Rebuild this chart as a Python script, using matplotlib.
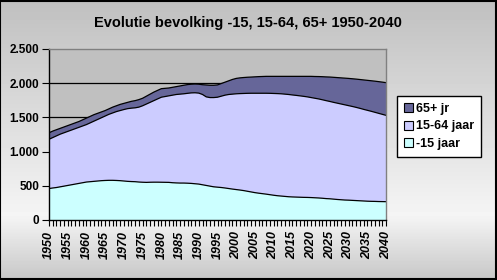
import numpy as np
import matplotlib.pyplot as plt
from matplotlib.ticker import FuncFormatter, MultipleLocator

years = np.arange(1950, 2041)

jong = [460, 468, 475, 485, 495, 505, 515, 525, 535, 545,
        555, 560, 565, 570, 575, 578, 580, 580, 578, 575,
        570, 565, 562, 560, 555, 552, 550, 552, 553, 553,
        552, 551, 550, 545, 542, 540, 540, 538, 535, 530,
        525, 515, 505, 495, 485, 480, 475, 468, 460, 452,
        445, 438, 430, 420, 410, 400, 392, 385, 378, 370,
        362, 355, 350, 345, 340, 337, 335, 333, 331, 330,
        328, 325, 322, 318, 313, 310, 305, 300, 296, 292,
        290, 287, 284, 281, 278, 275, 273, 272, 270, 269,
        268]
actief = [720, 737, 755, 770, 780, 790, 800, 810, 820, 830,
          840, 860, 880, 900, 920, 942, 965, 985, 1007, 1025,
          1045, 1063, 1073, 1080, 1095, 1118, 1145, 1168, 1192, 1217,
          1243, 1254, 1265, 1280, 1293, 1300, 1305, 1314, 1323, 1330,
          1330, 1320, 1295, 1295, 1305, 1315, 1335, 1357, 1375, 1388,
          1400, 1410, 1420, 1432, 1443, 1453, 1461, 1468, 1475, 1482,
          1488, 1493, 1495, 1495, 1495, 1491, 1487, 1482, 1477, 1470,
          1462, 1455, 1448, 1440, 1432, 1423, 1415, 1408, 1400, 1392,
          1382, 1373, 1363, 1352, 1340, 1329, 1317, 1303, 1290, 1276,
          1262]
oud = [95, 95, 90, 85, 85, 85, 85, 85, 85, 90,
       95, 95, 95, 90, 85, 80, 80, 85, 85, 90,
       90, 92, 100, 105, 110, 110, 115, 120, 125, 125,
       125, 120, 115, 115, 115, 120, 125, 128, 127, 128,
       130, 143, 174, 180, 180, 180, 185, 190, 200, 215,
       225, 230, 233, 235, 237, 240, 243, 245, 247, 248,
       250, 252, 255, 260, 265, 272, 278, 285, 292, 300,
       310, 318, 327, 337, 347, 357, 366, 374, 382, 390,
       398, 405, 413, 421, 430, 438, 446, 455, 463, 471,
       478]
labels = ['-15 jaar', '15-64 jaar', '65+ jr']
colors = ['#ccffff', '#ccccff', '#666699']

plt.rcParams['font.family'] = ['Liberation Sans', 'DejaVu Sans']

fig = plt.figure(figsize=(4.97, 2.80), dpi=100)

# achtergrond met verloop
bg = fig.add_axes([0, 0, 1, 1], zorder=-10)
t = np.linspace(0, 1, 280)
g = np.where(t < 0.77, 0.75 + 0.21 * (t / 0.77), 0.96 - 0.18 * ((t - 0.77) / 0.23))
bg.imshow(g[:, None], cmap='gray', vmin=0, vmax=1, aspect='auto',
          extent=[0, 1, 1, 0])
bg.set_axis_off()
fig.patches.append(plt.Rectangle((0.001, 0.002), 0.997, 0.995, transform=fig.transFigure,
                                 fill=False, edgecolor='black', lw=1.5, zorder=10))

ax = fig.add_axes([49 / 497, 60 / 280, 337 / 497, 171 / 280])
ax.set_facecolor('#c0c0c0')

# rasterlijnen achter de vlakken
for yv in range(500, 2500, 500):
    ax.axhline(yv, color='black', lw=0.9, zorder=1)

series = [np.array(jong), np.array(actief), np.array(oud)]
bottom = np.zeros(len(years))
handles = []
for vals, col, lab in zip(series, colors, labels):
    top = bottom + vals
    h = ax.fill_between(years, bottom, top, facecolor=col, edgecolor='none',
                        label=lab, zorder=2)
    ax.plot(years, top, color='black', lw=0.9, zorder=3)
    handles.append(h)
    bottom = top

ax.set_xlim(1950, 2040)
ax.set_ylim(0, 2500)
ax.yaxis.set_major_locator(MultipleLocator(500))
ax.yaxis.set_major_formatter(FuncFormatter(lambda v, p: f'{int(v):,}'.replace(',', '.')))

ax.xaxis.set_major_locator(MultipleLocator(5))
ax.xaxis.set_minor_locator(MultipleLocator(1))
ax.tick_params(axis='x', which='both', direction='out', length=4, width=0.8,
               labelsize=9, pad=4)
ax.tick_params(axis='y', direction='out', length=5, width=0.8, labelsize=8.5, pad=2)
for lab in ax.get_xticklabels():
    lab.set_rotation(90)
    lab.set_fontweight('bold')
    lab.set_fontstyle('italic')
for lab in ax.get_yticklabels():
    lab.set_fontweight('bold')

ax.spines['top'].set_color('#808080')
ax.spines['right'].set_color('#808080')
for s in ax.spines.values():
    s.set_linewidth(1)
    s.set_zorder(4)

fig.text(248 / 497, 1 - 23 / 280, 'Evolutie bevolking -15, 15-64, 65+ 1950-2040',
         ha='center', va='center', fontsize=10.5, fontweight='bold')

leg = fig.legend(handles[::-1], labels[::-1], loc='upper left',
                 bbox_to_anchor=(397 / 497, 1 - 96 / 280), fancybox=False,
                 edgecolor='black', facecolor='white', framealpha=1,
                 handlelength=0.7, handleheight=0.7, handletextpad=0.3,
                 labelspacing=0.45, borderpad=0.55, borderaxespad=0,
                 prop={'size': 9, 'weight': 'bold'})
leg.get_frame().set_linewidth(1)
for h in leg.legend_handles:
    h.set_edgecolor('black')
    h.set_linewidth(0.8)

fig.savefig('out.png', dpi=100)
